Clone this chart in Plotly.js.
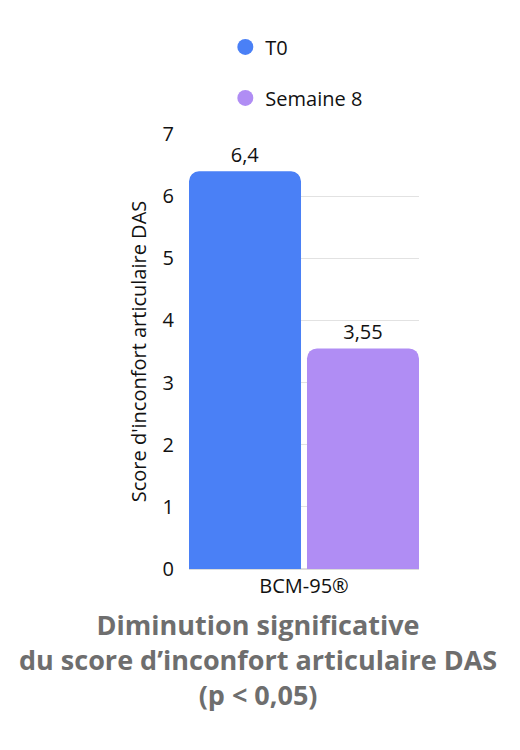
<!DOCTYPE html>
<html>
<head>
<meta charset="utf-8">
<script src="https://cdn.plot.ly/plotly-3.0.1.min.js"></script>
<style>
  html, body { margin: 0; padding: 0; background: #fff; }
  #graf { width: 520px; height: 750px; }
</style>
</head>
<body>
<div id="graf"></div>
<script>
var categorie = ['BCM-95®'];
var nazvySerii = ['T0', 'Semaine 8'];
var hodnotyT0 = [6.4];
var hodnotySemaine8 = [3.55];
var farby = ['#4a80f6', '#b08df4'];

function popis(v) {
    return String(v).replace('.', ',');
}

var trace1 = {
    x: categorie,
    y: hodnotyT0,
    type: 'bar',
    name: nazvySerii[0],
    width: 0.487,
    offset: -0.5,
    marker: { color: farby[0], cornerradius: 10 },
    text: hodnotyT0.map(popis),
    textposition: 'outside',
    textfont: { size: 20, color: '#111' },
    cliponaxis: false,
    showlegend: false,
    hoverinfo: 'none'
};

var trace2 = {
    x: categorie,
    y: hodnotySemaine8,
    type: 'bar',
    name: nazvySerii[1],
    width: 0.487,
    offset: 0.013,
    marker: { color: farby[1], cornerradius: 10 },
    text: hodnotySemaine8.map(popis),
    textposition: 'outside',
    textfont: { size: 20, color: '#111' },
    cliponaxis: false,
    showlegend: false,
    hoverinfo: 'none'
};

// legenda s kruhmi
var leg1 = {
    x: [null], y: [null], type: 'scatter', mode: 'markers',
    name: nazvySerii[0], legendgroup: 'a',
    marker: { color: farby[0], size: 20, symbol: 'circle' }
};
var leg2 = {
    x: [null], y: [null], type: 'scatter', mode: 'markers',
    name: nazvySerii[1], legendgroup: 'b',
    marker: { color: farby[1], size: 20, symbol: 'circle' }
};

var layout = {
    width: 520,
    height: 750,
    margin: { l: 189, r: 101, t: 134, b: 181 },
    font: { family: '"Open Sans", "Noto Sans", sans-serif', size: 20, color: '#111' },
    paper_bgcolor: '#fff',
    plot_bgcolor: '#fff',
    barmode: 'group',
    showlegend: true,
    legend: {
        x: 0.158, xanchor: 'left',
        y: 1.245, yanchor: 'top',
        orientation: 'v',
        tracegroupgap: 22,
        font: { size: 20, color: '#111' }
    },
    xaxis: {
        type: 'category',
        range: [-0.5, 0.5],
        showgrid: false,
        showline: false,
        ticks: '',
        ticklabelstandoff: 3,
        tickfont: { size: 20 }
    },
    yaxis: {
        range: [0, 7],
        dtick: 1,
        gridcolor: '#e2e2e2',
        zeroline: true,
        zerolinecolor: '#dcdcdc',
        zerolinewidth: 2,
        showline: false,
        ticks: '',
        ticklabelstandoff: 14,
        tickfont: { size: 20 },
        title: { text: "Score d'inconfort articulaire DAS", font: { size: 20 }, standoff: 10 }
    },
    annotations: [{
        text: '<b>Diminution significative<br>du score d’inconfort articulaire DAS<br>(p < 0,05)</b>',
        font: { size: 27, color: '#6e6e6e' },
        xref: 'paper', yref: 'paper',
        x: 0.30, xanchor: 'center',
        y: -0.209, yanchor: 'middle',
        showarrow: false
    }]
};

Plotly.newPlot('graf', [trace1, trace2, leg1, leg2], layout, { staticPlot: true });
</script>
</body>
</html>
